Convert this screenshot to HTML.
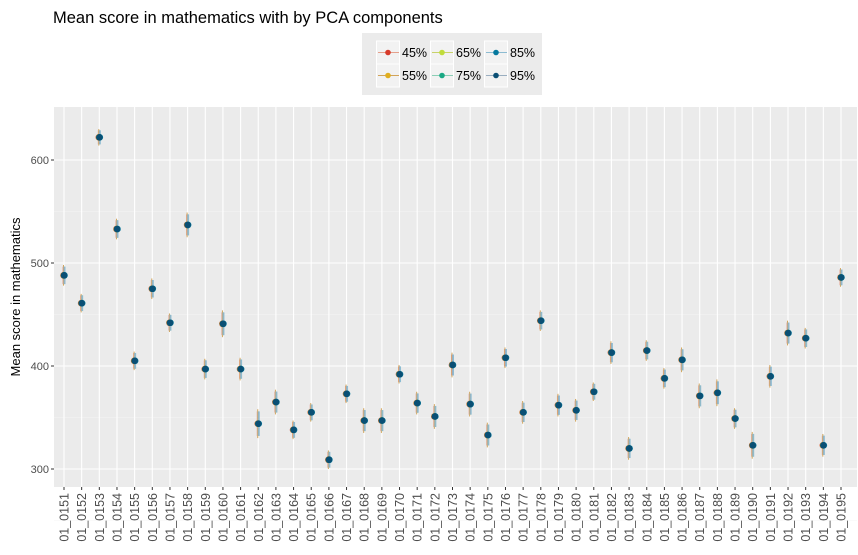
<!DOCTYPE html>
<html><head><meta charset="utf-8"><style>
body{margin:0;background:#fff;}
svg{font-family:"Liberation Sans",Arial,sans-serif;}
</style></head><body>
<svg id="chart" width="858" height="550">
<text x="53" y="23" font-size="16.5" fill="#000">Mean score in mathematics with by PCA components</text>
<rect x="54" y="107" width="803" height="380" fill="#ebebeb"/>
<g id="grid"></g><g id="marks"></g><g id="axes"></g>
<text transform="translate(20,297) rotate(-90)" text-anchor="middle" font-size="13" fill="#000">Mean score in mathematics</text>
<g>
<rect x="362" y="33" width="180" height="62" fill="#ebebeb"/>
<g id="legend"></g>
</g>
</svg>
<script>
const categories=["01_0151","01_0152","01_0153","01_0154","01_0155","01_0156","01_0157","01_0158","01_0159","01_0160","01_0161","01_0162","01_0163","01_0164","01_0165","01_0166","01_0167","01_0168","01_0169","01_0170","01_0171","01_0172","01_0173","01_0174","01_0175","01_0176","01_0177","01_0178","01_0179","01_0180","01_0181","01_0182","01_0183","01_0184","01_0185","01_0186","01_0187","01_0188","01_0189","01_0190","01_0191","01_0192","01_0193","01_0194","01_0195"];
const means=[488,461,622,533,405,475,442,537,397,441,397,344,365,338,355,309,373,347,347,392,364,351,401,363,333,408,355,444,362,357,375,413,320,415,388,406,371,374,349,323,390,432,427,323,486];
const halfWidths=[10,9,8,10,9,10,9,12,10,13,11,14,12,9,9,9,9,12,12,9,11,12,12,12,12,10,11,10,11,11,9,11,11,10,10,12,12,13,10,13,11,12,10,11,9];
const seriesNames=["45%","55%","65%","75%","85%","95%"];
const seriesOffsets=[-1,-0.5,0,0.5,1,0];
const seriesColors=["#d73b2a","#e0ae1f","#c0dc3a","#1aa884","#05799e","#0a4f74"];
const barColors=["#e5a08c","#d2a45a","#c8d26a","#8ccfb6","#8dbcd2","#9aaec0"];
const yTicks=[300,400,500,600];
const ns="http://www.w3.org/2000/svg";
const x0=54,x1=857,yTop=107,yBot=487;
const xScale=i=>64+i*(841-64)/(categories.length-1);
const yScale=v=>469-(v-300)*1.03;
function mk(t,a,p){const e=document.createElementNS(ns,t);for(const k in a)e.setAttribute(k,a[k]);p.appendChild(e);return e;}
const grid=document.getElementById('grid'),marks=document.getElementById('marks'),axes=document.getElementById('axes');
[250,350,450,550].forEach(v=>{const l=mk('line',{x1:x0,x2:x1,y1:yScale(v),y2:yScale(v),stroke:'#f5f5f5','stroke-width':0.6},grid);

});
yTicks.forEach(v=>{const y=yScale(v);
const g=mk('line',{x1:x0,x2:x1,y1:y,y2:y,stroke:'#fff','stroke-width':1.1},grid);


mk('line',{x1:x0-3,x2:x0,y1:y,y2:y,stroke:'#333'},axes);
const t=mk('text',{x:x0-5,y:y+4,'text-anchor':'end','font-size':11,fill:'#4d4d4d'},axes);t.textContent=v;

});
categories.forEach((c,i)=>{const x=xScale(i);
const g=mk('line',{x1:x,x2:x,y1:yTop,y2:yBot,stroke:'#fff','stroke-width':1.1},grid);


mk('line',{x1:x,x2:x,y1:yBot,y2:yBot+3,stroke:'#333'},axes);
const t=mk('text',{transform:`translate(${x+4.5},${yBot+6}) rotate(-90)`,'text-anchor':'end','font-size':12.5,fill:'#4d4d4d'},axes);t.textContent=c;

});
seriesNames.forEach((s,k)=>{categories.forEach((c,i)=>{const x=xScale(i)+seriesOffsets[k];const m=means[i];const h=halfWidths[i]*(k===1?1:0.85);
const b=mk('line',{x1:x,x2:x,y1:yScale(m+h),y2:yScale(m-h),stroke:barColors[k],'stroke-width':1},marks);

});});
seriesNames.forEach((s,k)=>{categories.forEach((c,i)=>{const x=xScale(i)+seriesOffsets[k]*0.5;
const p=mk('circle',{cx:x,cy:yScale(means[i]),r:3.3,fill:seriesColors[k]},marks);

});});
const lg=document.getElementById('legend');
seriesNames.forEach((s,k)=>{const col=Math.floor(k/2),row=k%2;const kx=[377,431,485][col],ky=[41,64][row];
mk('rect',{x:kx-0.5,y:ky,width:23,height:23,fill:'#f2f2f2',stroke:'#fff'},lg);
mk('line',{x1:kx+1,x2:kx+22,y1:ky+11.5,y2:ky+11.5,stroke:barColors[k],'stroke-width':1},lg);
mk('circle',{cx:kx+11,cy:ky+11.5,r:2.8,fill:seriesColors[k]},lg);
const t=mk('text',{x:kx+25,y:ky+16,'font-size':12.5,fill:'#000'},lg);t.textContent=s;

});
</script>
</body></html>
